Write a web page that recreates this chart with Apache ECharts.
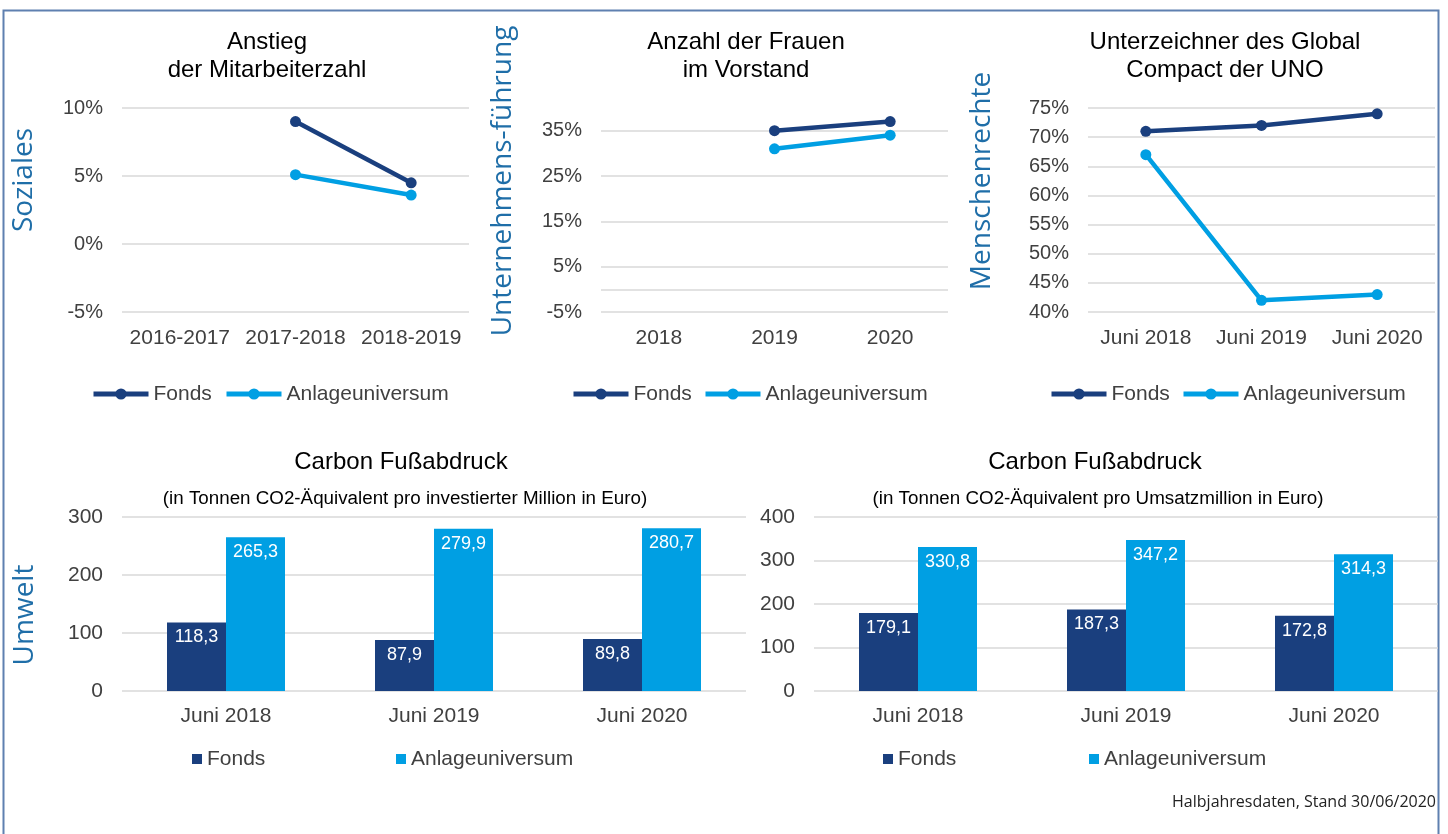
<!DOCTYPE html>
<html>
<head>
<meta charset="utf-8">
<script src="https://cdn.jsdelivr.net/npm/echarts@6/dist/echarts.min.js"></script>
<style>
  html, body { margin: 0; padding: 0; background: #fff; }
  #main { width: 1448px; height: 834px; }
</style>
</head>
<body>
<div id="main"></div>
<script>
// Anstieg der Mitarbeiterzahl (%)
var staffCats = ['2016-2017', '2017-2018', '2018-2019'];
var staffFonds = [null, 9.0, 4.5];
var staffUniverse = [null, 5.1, 3.6];

// Anzahl der Frauen im Vorstand (%)
var womenCats = ['2018', '2019', '2020'];
var womenFonds = [null, 35, 37];
var womenUniverse = [null, 31, 34];

// Unterzeichner des Global Compact der UNO (%)
var gcCats = ['Juni 2018', 'Juni 2019', 'Juni 2020'];
var gcFonds = [71, 72, 74];
var gcUniverse = [67, 42, 43];

// Carbon Fussabdruck
var carbonCats = ['Juni 2018', 'Juni 2019', 'Juni 2020'];
var carbonInvFonds = [118.3, 87.9, 89.8];
var carbonInvUniverse = [265.3, 279.9, 280.7];
var carbonSalesFonds = [179.1, 187.3, 172.8];
var carbonSalesUniverse = [330.8, 347.2, 314.3];

var NAVY = '#1a3f7e', CYAN = '#009fe3';
var FONT = "'Liberation Sans', Arial, sans-serif";
var GRIDC = '#d9d9d9';

var chart = echarts.init(document.getElementById('main'));

function pct(v) { return v + '%'; }
function comma(p) { return p.value.toFixed(1).replace('.', ','); }

function xCat(gi, cats, margin) {
    return {
        type: 'category', gridIndex: gi, data: cats,
        axisLine: { show: false }, axisTick: { show: false },
        axisLabel: { margin: margin, interval: 0, hideOverlap: false,
                     fontSize: 21, color: '#404040', fontFamily: FONT }
    };
}
function yVal(gi, min, max, step, fmt, size) {
    return {
        type: 'value', gridIndex: gi, min: min, max: max, interval: step,
        axisLine: { show: false }, axisTick: { show: false },
        axisLabel: { margin: 19, fontSize: size || 20, color: '#404040', fontFamily: FONT, formatter: fmt },
        splitLine: { lineStyle: { color: GRIDC, width: 1.5 } }
    };
}
function lineSeries(name, gi, data, color) {
    return {
        type: 'line', name: name, xAxisIndex: gi, yAxisIndex: gi, data: data,
        symbol: 'circle', symbolSize: 11, color: color,
        lineStyle: { width: 4.5, color: color }, itemStyle: { color: color }
    };
}
function barSeries(name, gi, data, color) {
    return {
        type: 'bar', name: name, xAxisIndex: gi, yAxisIndex: gi, data: data,
        barWidth: 59, barGap: '0%', itemStyle: { color: color },
        label: { show: true, position: 'insideTop', distance: 6, color: '#fff',
                 fontSize: 18, fontFamily: FONT, formatter: comma }
    };
}
function legendItem(name, left, top, rect) {
    var item = { name: name };
    if (rect) item.icon = 'rect';
    return {
        left: left, top: top, padding: 0,
        itemWidth: rect ? 10 : 55, itemHeight: rect ? 10 : 14,
        data: [item], selectedMode: false,
        lineStyle: { width: 5 },
        textStyle: { fontSize: 21, color: '#404040', fontFamily: FONT, lineHeight: 22 }
    };
}
function txt(x, y, s, size, color, align, family, rot) {
    return {
        type: 'text', x: x, y: y, rotation: rot || 0, silent: true,
        style: { text: s, fontSize: size, fontFamily: family || FONT, fill: color || '#000',
                 align: align || 'center', verticalAlign: 'middle' }
    };
}

var SIDE = "'Open Sans', 'Noto Sans', sans-serif";
var SIDEC = '#1f6ea8';

chart.setOption({
    animation: false,
    grid: [
        { left: 122, top: 108, width: 347, height: 204 },
        { left: 601, top: 108, width: 347, height: 204 },
        { left: 1088, top: 108, width: 347, height: 204 },
        { left: 122, top: 517, width: 624, height: 174 },
        { left: 814, top: 517, width: 624, height: 174 }
    ],
    xAxis: [
        xCat(0, staffCats, 16),
        xCat(1, womenCats, 16),
        xCat(2, gcCats, 16),
        xCat(3, carbonCats, 15),
        xCat(4, carbonCats, 15)
    ],
    yAxis: [
        yVal(0, -5, 10, 5, pct),
        (function () {
            var a = yVal(1, -5, 40, 10, pct);
            a.axisLabel.showMaxLabel = false;
            a.splitLine.showMaxLine = false;
            return a;
        })(),
        yVal(2, 40, 75, 5, pct),
        yVal(3, 0, 300, 100, null, 21),
        yVal(4, 0, 400, 100, null, 21)
    ],
    legend: [
        legendItem('Fonds', 91, 383), legendItem('Anlageuniversum', 224, 383),
        legendItem('Fonds', 571, 383), legendItem('Anlageuniversum', 703, 383),
        legendItem('Fonds', 1049, 383), legendItem('Anlageuniversum', 1181, 383),
        legendItem('Fonds', 192, 748, true), legendItem('Anlageuniversum', 396, 748, true),
        legendItem('Fonds', 883, 748, true), legendItem('Anlageuniversum', 1089, 748, true)
    ],
    series: [
        lineSeries('Fonds', 0, staffFonds, NAVY),
        lineSeries('Anlageuniversum', 0, staffUniverse, CYAN),
        (function () {
            var s = lineSeries('Fonds', 1, womenFonds, NAVY);
            s.markLine = { silent: true, symbol: 'none', label: { show: false },
                lineStyle: { color: GRIDC, width: 1.5, type: 'solid' }, data: [{ yAxis: 0 }] };
            return s;
        })(),
        lineSeries('Anlageuniversum', 1, womenUniverse, CYAN),
        lineSeries('Fonds', 2, gcFonds, NAVY),
        lineSeries('Anlageuniversum', 2, gcUniverse, CYAN),
        barSeries('Fonds', 3, carbonInvFonds, NAVY),
        barSeries('Anlageuniversum', 3, carbonInvUniverse, CYAN),
        barSeries('Fonds', 4, carbonSalesFonds, NAVY),
        barSeries('Anlageuniversum', 4, carbonSalesUniverse, CYAN)
    ],
    graphic: [
        { type: 'rect', silent: true, shape: { x: 3.5, y: 10.5, width: 1435, height: 840 },
          style: { fill: 'none', stroke: '#5f80b0', lineWidth: 2 } },
        txt(267, 42, 'Anstieg', 24), txt(267, 70, 'der Mitarbeiterzahl', 24),
        txt(746, 42, 'Anzahl der Frauen', 24), txt(746, 70, 'im Vorstand', 24),
        txt(1225, 42, 'Unterzeichner des Global', 24), txt(1225, 70, 'Compact der UNO', 24),
        txt(401, 462, 'Carbon Fußabdruck', 24),
        txt(405, 499, '(in Tonnen CO2-Äquivalent pro investierter Million in Euro)', 18.8),
        txt(1095, 462, 'Carbon Fußabdruck', 24),
        txt(1098, 499, '(in Tonnen CO2-Äquivalent pro Umsatzmillion in Euro)', 18.8),
        txt(24, 180, 'Soziales', 28, SIDEC, 'center', SIDE, Math.PI / 2),
        txt(503, 181, 'Unternehmens-führung', 28, SIDEC, 'center', SIDE, Math.PI / 2),
        txt(982, 181, 'Menschenrechte', 28, SIDEC, 'center', SIDE, Math.PI / 2),
        txt(25, 615, 'Umwelt', 28, SIDEC, 'center', SIDE, Math.PI / 2),
        txt(1436, 802, 'Halbjahresdaten, Stand 30/06/2020', 16, '#222', 'right', SIDE)
    ]
});
</script>
</body>
</html>
